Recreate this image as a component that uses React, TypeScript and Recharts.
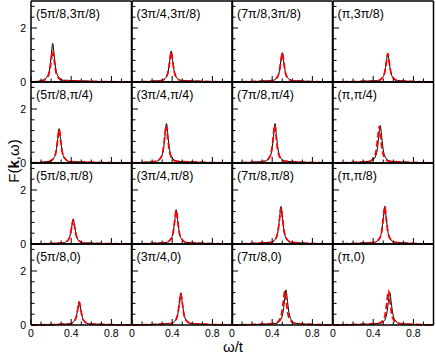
import { LineChart, Line, XAxis, YAxis } from "recharts";

const FONT = "'Liberation Sans', Arial, Helvetica, sans-serif";

// axis ticks (xmgrace style: major + minor, all pointing inward)
const xTicks = [0, 0.1, 0.2, 0.3, 0.4, 0.5, 0.6, 0.7, 0.8, 0.9, 1];
const yTicks = [0, 0.4, 0.8, 1.2, 1.6, 2, 2.4, 2.8];

// row 1: ky = 3π/8
const w11 = [0, 0.116, 0.166, 0.186, 0.201, 0.216, 0.231, 0.246, 0.266, 0.316, 1];
const b11 = [0, 0.066, 0.23, 0.5, 0.97, 1.43, 0.97, 0.5, 0.23, 0.066, 0];
const r11 = [0, 0.054, 0.19, 0.41, 0.8, 1.17, 0.8, 0.41, 0.19, 0.054, 0];

const w12 = [0, 0.29, 0.34, 0.36, 0.375, 0.39, 0.405, 0.42, 0.44, 0.49, 1];
const b12 = [0, 0.053, 0.18, 0.4, 0.78, 1.15, 0.78, 0.4, 0.18, 0.053, 0];
const r12 = [0, 0.052, 0.18, 0.39, 0.76, 1.12, 0.76, 0.39, 0.18, 0.052, 0];

const w13 = [0, 0.4, 0.45, 0.47, 0.485, 0.5, 0.515, 0.53, 0.55, 0.6, 1];
const b13 = [0, 0.05, 0.17, 0.38, 0.74, 1.09, 0.74, 0.38, 0.17, 0.05, 0];
const r13 = [0, 0.049, 0.17, 0.37, 0.73, 1.07, 0.73, 0.37, 0.17, 0.049, 0];

const w14 = [0, 0.445, 0.495, 0.515, 0.53, 0.545, 0.56, 0.575, 0.595, 0.645, 1];
const b14 = [0, 0.049, 0.17, 0.37, 0.72, 1.06, 0.72, 0.37, 0.17, 0.049, 0];
const r14 = [0, 0.048, 0.17, 0.37, 0.71, 1.05, 0.71, 0.37, 0.17, 0.048, 0];

// row 2: ky = π/4
const w21 = [0, 0.18, 0.23, 0.25, 0.265, 0.28, 0.295, 0.31, 0.33, 0.38, 1];
const b21 = [0, 0.058, 0.2, 0.44, 0.86, 1.27, 0.86, 0.44, 0.2, 0.058, 0];
const r21 = [0, 0.057, 0.2, 0.43, 0.84, 1.24, 0.84, 0.43, 0.2, 0.057, 0];

const w22 = [0, 0.243, 0.293, 0.313, 0.328, 0.343, 0.358, 0.373, 0.393, 0.443, 1];
const wr22 = [0, 0.24, 0.29, 0.31, 0.325, 0.34, 0.355, 0.37, 0.39, 0.44, 1];
const b22 = [0, 0.067, 0.23, 0.51, 0.99, 1.46, 0.99, 0.51, 0.23, 0.067, 0];
const r22 = [0, 0.064, 0.22, 0.49, 0.95, 1.4, 0.95, 0.49, 0.22, 0.064, 0];

const w23 = [0, 0.328, 0.378, 0.398, 0.413, 0.428, 0.443, 0.458, 0.478, 0.528, 1];
const wr23 = [0, 0.325, 0.375, 0.395, 0.41, 0.425, 0.44, 0.455, 0.475, 0.525, 1];
const b23 = [0, 0.067, 0.23, 0.51, 0.99, 1.46, 0.99, 0.51, 0.23, 0.067, 0];
const r23 = [0, 0.064, 0.22, 0.49, 0.95, 1.4, 0.95, 0.49, 0.22, 0.064, 0];

const w24 = [0, 0.37, 0.42, 0.44, 0.455, 0.47, 0.485, 0.5, 0.52, 0.57, 1];
const wr24 = [0, 0.36, 0.41, 0.43, 0.445, 0.46, 0.475, 0.49, 0.51, 0.56, 1];
const b24 = [0, 0.064, 0.22, 0.49, 0.95, 1.39, 0.95, 0.49, 0.22, 0.064, 0];
const r24 = [0, 0.062, 0.22, 0.47, 0.92, 1.35, 0.92, 0.47, 0.22, 0.062, 0];

// row 3: ky = π/8
const w31 = [0, 0.32, 0.37, 0.39, 0.405, 0.42, 0.435, 0.45, 0.47, 0.52, 1];
const b31 = [0, 0.043, 0.15, 0.33, 0.63, 0.93, 0.63, 0.33, 0.15, 0.043, 0];
const r31 = [0, 0.041, 0.14, 0.32, 0.61, 0.9, 0.61, 0.32, 0.14, 0.041, 0];

const w32 = [0, 0.34, 0.39, 0.41, 0.425, 0.44, 0.455, 0.47, 0.49, 0.54, 1];
const b32 = [0, 0.058, 0.2, 0.44, 0.86, 1.27, 0.86, 0.44, 0.2, 0.058, 0];
const r32 = [0, 0.058, 0.2, 0.44, 0.85, 1.25, 0.85, 0.44, 0.2, 0.058, 0];

const w33 = [0, 0.388, 0.438, 0.458, 0.473, 0.488, 0.503, 0.518, 0.538, 0.588, 1];
const b33 = [0, 0.064, 0.22, 0.49, 0.95, 1.39, 0.95, 0.49, 0.22, 0.064, 0];
const r33 = [0, 0.063, 0.22, 0.48, 0.92, 1.36, 0.92, 0.48, 0.22, 0.063, 0];

const w34 = [0, 0.415, 0.465, 0.485, 0.5, 0.515, 0.53, 0.545, 0.565, 0.615, 1];
const b34 = [0, 0.064, 0.22, 0.49, 0.95, 1.4, 0.95, 0.49, 0.22, 0.064, 0];
const r34 = [0, 0.063, 0.22, 0.48, 0.94, 1.38, 0.94, 0.48, 0.22, 0.063, 0];

// row 4: ky = 0
const w41 = [0, 0.38, 0.43, 0.45, 0.465, 0.48, 0.495, 0.51, 0.53, 0.58, 1];
const b41 = [0, 0.04, 0.14, 0.3, 0.59, 0.87, 0.59, 0.3, 0.14, 0.04, 0];
const r41 = [0, 0.04, 0.14, 0.3, 0.58, 0.85, 0.58, 0.3, 0.14, 0.04, 0];

const w42 = [0, 0.386, 0.436, 0.456, 0.471, 0.486, 0.501, 0.516, 0.536, 0.586, 1];
const b42 = [0, 0.055, 0.19, 0.42, 0.81, 1.19, 0.81, 0.42, 0.19, 0.055, 0];
const r42 = [0, 0.054, 0.19, 0.41, 0.8, 1.17, 0.8, 0.41, 0.19, 0.054, 0];

const w43 = [0, 0.437, 0.487, 0.507, 0.522, 0.537, 0.552, 0.567, 0.587, 0.637, 1];
const wr43 = [0, 0.425, 0.475, 0.495, 0.51, 0.525, 0.54, 0.555, 0.575, 0.625, 1];
const b43 = [0, 0.06, 0.21, 0.46, 0.88, 1.3, 0.88, 0.46, 0.21, 0.06, 0];
const r43 = [0, 0.058, 0.2, 0.44, 0.85, 1.25, 0.85, 0.44, 0.2, 0.058, 0];

const w44 = [0, 0.465, 0.515, 0.535, 0.55, 0.565, 0.58, 0.595, 0.615, 0.665, 1];
const wr44 = [0, 0.452, 0.502, 0.522, 0.537, 0.552, 0.567, 0.582, 0.602, 0.652, 1];
const b44 = [0, 0.056, 0.19, 0.42, 0.82, 1.21, 0.82, 0.42, 0.19, 0.056, 0];
const r44 = [0, 0.059, 0.2, 0.45, 0.87, 1.28, 0.87, 0.45, 0.2, 0.059, 0];

const panels = [
  { label: "(5π/8,3π/8)", w: w11, b: b11, r: r11 },
  { label: "(3π/4,3π/8)", w: w12, b: b12, r: r12 },
  { label: "(7π/8,3π/8)", w: w13, b: b13, r: r13 },
  { label: "(π,3π/8)", w: w14, b: b14, r: r14 },
  { label: "(5π/8,π/4)", w: w21, b: b21, r: r21 },
  { label: "(3π/4,π/4)", w: w22, wr: wr22, b: b22, r: r22 },
  { label: "(7π/8,π/4)", w: w23, wr: wr23, b: b23, r: r23 },
  { label: "(π,π/4)", w: w24, wr: wr24, b: b24, r: r24 },
  { label: "(5π/8,π/8)", w: w31, b: b31, r: r31 },
  { label: "(3π/4,π/8)", w: w32, b: b32, r: r32 },
  { label: "(7π/8,π/8)", w: w33, b: b33, r: r33 },
  { label: "(π,π/8)", w: w34, b: b34, r: r34 },
  { label: "(5π/8,0)", w: w41, b: b41, r: r41 },
  { label: "(3π/4,0)", w: w42, b: b42, r: r42 },
  { label: "(7π/8,0)", w: w43, wr: wr43, b: b43, r: r43 },
  { label: "(π,0)", w: w44, wr: wr44, b: b44, r: r44 },
];

// layout
const X0 = 31;
const Y0 = 0.7;
const PW = 100.5;
const PH = 81;
const M = 6;
const A = 1; // axis band size

const zip = (w: number[], f: number[]) => w.map((x, i) => ({ w: x, f: f[i] }));

const isMajorX = (v: number) => Math.round(v * 10) % 4 === 0;
const isMajorY = (v: number) => Math.round(v * 10) % 20 === 0;
const fmtX = (v: number) => (v === 0 ? "0" : v.toFixed(1));

const tickText = { fontSize: 10.5, fontFamily: FONT, fill: "#000" };

function Panel({ row, col, p }: { row: number; col: number; p: any }) {
  const black = zip(p.w, p.b);
  const red = zip(p.wr ?? p.w, p.r);
  const showX = row === 3;
  const showY = col === 0;

  const bottomTick = (props: any) => {
    const { x, y, payload } = props;
    const v = payload.value;
    const major = isMajorX(v);
    return (
      <g>
        <line x1={x} y1={y} x2={x} y2={y - (major ? 6 : 3.5)} stroke="#000" strokeWidth={1} />
        {showX && major && v < 0.95 && (
          <text x={x} y={y + 12} textAnchor="middle" {...tickText}>
            {fmtX(v)}
          </text>
        )}
      </g>
    );
  };
  const topTick = (props: any) => {
    const { x, y, payload } = props;
    const major = isMajorX(payload.value);
    return <line x1={x} y1={y} x2={x} y2={y + (major ? 6 : 3.5)} stroke="#000" strokeWidth={1} />;
  };
  const leftTick = (props: any) => {
    const { x, y, payload } = props;
    const v = payload.value;
    const major = isMajorY(v);
    return (
      <g>
        <line x1={x} y1={y} x2={x + (major ? 6 : 3.5)} y2={y} stroke="#000" strokeWidth={1} />
        {showY && major && (
          <text x={x - 5} y={y + 3.8} textAnchor="end" {...tickText}>
            {String(v)}
          </text>
        )}
      </g>
    );
  };
  const rightTick = (props: any) => {
    const { x, y, payload } = props;
    const major = isMajorY(payload.value);
    return <line x1={x} y1={y} x2={x - (major ? 6 : 3.5)} y2={y} stroke="#000" strokeWidth={1} />;
  };

  const axisLine = { stroke: "#000", strokeWidth: 1.5 };
  const mm = M - A;

  return (
    <div style={{ position: "absolute", left: X0 + col * PW - M, top: Y0 + row * PH - M }}>
      <LineChart width={PW + 2 * M} height={PH + 2 * M} margin={{ top: mm, right: mm, bottom: mm, left: mm }}>
        <XAxis type="number" dataKey="w" domain={[0, 1]} ticks={xTicks} interval={0} orientation="bottom" height={A} tickSize={0} tickMargin={0} axisLine={axisLine} tickLine={false} tick={bottomTick} />
        <XAxis xAxisId="top" type="number" dataKey="w" domain={[0, 1]} ticks={xTicks} interval={0} orientation="top" height={A} tickSize={0} tickMargin={0} axisLine={axisLine} tickLine={false} tick={topTick} />
        <YAxis type="number" domain={[0, 3]} ticks={yTicks} interval={0} orientation="left" width={A} tickSize={0} tickMargin={0} axisLine={axisLine} tickLine={false} tick={leftTick} />
        <YAxis yAxisId="right" type="number" domain={[0, 3]} ticks={yTicks} interval={0} orientation="right" width={A} tickSize={0} tickMargin={0} axisLine={axisLine} tickLine={false} tick={rightTick} />
        <Line data={black} dataKey="f" type="monotone" stroke="#000" strokeWidth={1} dot={false} isAnimationActive={false} />
        <Line data={red} dataKey="f" type="monotone" stroke="#ff0000" strokeWidth={1.8} strokeDasharray="6 3" dot={false} isAnimationActive={false} />
      </LineChart>
      <div
        style={{
          position: "absolute",
          left: M + 5,
          top: M + 6,
          fontFamily: FONT,
          fontSize: 12.5,
          lineHeight: "14px",
          color: "#000",
          whiteSpace: "nowrap",
        }}
      >
        {p.label}
      </div>
    </div>
  );
}

export default function App() {
  return (
    <div style={{ position: "absolute", left: 0, top: 0, width: 436, height: 355, background: "#fff" }}>
      <style>{".recharts-surface{overflow:visible}"}</style>
      {panels.map((p, i) => (
        <Panel key={i} row={Math.floor(i / 4)} col={i % 4} p={p} />
      ))}
      <svg width={436} height={355} style={{ position: "absolute", left: 0, top: 0, pointerEvents: "none" }}>
        <text x={18.5} y={161} transform="rotate(-90 18.5 161)" textAnchor="middle" fontFamily={FONT} fontSize={15} fill="#000">
          F(<tspan fontWeight="bold">k</tspan>,ω)
        </text>
        <text x={233} y={352} textAnchor="middle" fontFamily={FONT} fontSize={15} fill="#000">
          ω/t
        </text>
      </svg>
    </div>
  );
}
